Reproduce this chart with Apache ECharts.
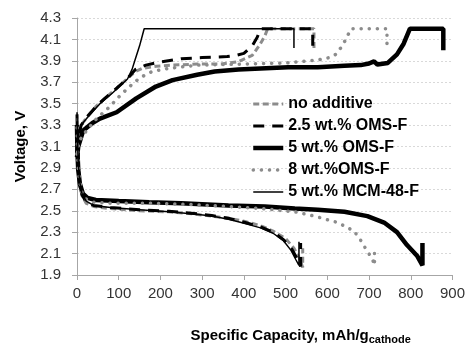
<!DOCTYPE html>
<html>
<head>
<meta charset="utf-8">
<script src="https://cdn.jsdelivr.net/npm/echarts@6/dist/echarts.min.js"></script>
<style>
  html, body { margin: 0; padding: 0; background: #fff; }
  #chart { width: 468px; height: 350px; }
</style>
</head>
<body>
<div id="chart"></div>
<script>
// legend names
const names = ['no additive', '2.5 wt.% OMS-F', '5 wt.% OMS-F', '8 wt.%OMS-F', '5 wt.% MCM-48-F'];

// [capacity mAh/g, voltage V]
const noAddCharge = [[0,3.05],[3,3.18],[10,3.3],[27,3.39],[47,3.48],[70,3.56],[94,3.64],[122,3.74],[140,3.8],[157,3.83],[190,3.85],[230,3.86],[290,3.87],[345,3.87],[385,3.89],[420,3.95],[438,4.05],[450,4.13],[457,4.2],[568,4.2],[568,4.01]];
const noAddDischarge = [[0,3.3],[1,3.1],[3,2.9],[6,2.75],[12,2.64],[22,2.57],[40,2.54],[80,2.52],[150,2.5],[220,2.49],[280,2.47],[323,2.45],[363,2.43],[403,2.4],[440,2.36],[470,2.31],[500,2.24],[520,2.15],[533,2.06],[541,1.97],[541,2.15]];

const oms25Charge = [[0,3.05],[3,3.18],[10,3.3],[27,3.39],[47,3.48],[70,3.56],[94,3.64],[122,3.74],[140,3.82],[165,3.86],[200,3.89],[250,3.92],[300,3.93],[360,3.94],[380,3.95],[400,3.97],[420,4.04],[432,4.12],[440,4.2],[565,4.2],[565,4.0]];
const oms25Discharge = [[0,3.4],[1,3.15],[3,2.92],[6,2.76],[12,2.65],[22,2.58],[40,2.55],[80,2.53],[150,2.51],[220,2.495],[280,2.475],[323,2.455],[363,2.43],[403,2.39],[440,2.35],[470,2.3],[495,2.23],[515,2.14],[528,2.05],[536,1.98],[536,2.2]];

const oms5Charge = [[0,3.0],[3,3.1],[15,3.25],[37,3.32],[55,3.36],[95,3.42],[142,3.55],[189,3.66],[229,3.72],[288,3.77],[330,3.8],[387,3.82],[506,3.84],[577,3.84],[641,3.855],[680,3.86],[700,3.875],[712,3.895],[720,3.865],[745,3.88],[767,3.96],[783,4.06],[798,4.2],[878,4.2],[878,4.0]];
const oms5Discharge = [[0,3.3],[1,3.05],[3,2.88],[7,2.75],[14,2.66],[25,2.62],[45,2.6],[100,2.59],[173,2.58],[250,2.57],[363,2.55],[450,2.54],[522,2.52],[577,2.51],[641,2.49],[696,2.45],[736,2.39],[767,2.3],[791,2.18],[815,2.08],[828,1.99],[828,2.2]];

const oms8Charge = [[0,3.03],[5,3.15],[23,3.25],[47,3.36],[78,3.47],[102,3.57],[126,3.66],[150,3.74],[180,3.8],[220,3.83],[290,3.86],[400,3.87],[500,3.88],[580,3.91],[605,3.93],[620,3.96],[636,4.04],[648,4.13],[657,4.2],[743,4.2],[743,4.02]];
const oms8Discharge = [[0,3.35],[1,3.1],[3,2.9],[6,2.78],[12,2.67],[22,2.61],[40,2.58],[80,2.57],[173,2.57],[260,2.56],[363,2.54],[442,2.52],[522,2.49],[569,2.45],[625,2.39],[664,2.31],[679,2.23],[696,2.12],[708,2.05],[713,1.99],[713,2.14]];

const mcmCharge = [[0,3.08],[3,3.2],[10,3.3],[27,3.38],[55,3.5],[85,3.6],[121,3.73],[132,3.82],[140,3.92],[150,4.04],[161,4.2],[520,4.2],[520,4.02]];
const mcmDischarge = [[0,3.42],[1,3.2],[3,2.95],[6,2.78],[12,2.66],[22,2.59],[40,2.55],[80,2.53],[150,2.51],[220,2.49],[280,2.47],[323,2.45],[363,2.42],[403,2.38],[440,2.34],[470,2.29],[495,2.22],[513,2.13],[525,2.04],[532,1.99],[532,2.21]];

const FONT = '"Liberation Sans", Arial, sans-serif';

const styles = [
    { color: '#8c8c8c', width: 3, type: [6, 3.5], cap: 'butt' },
    { color: '#000', width: 3, type: [11, 8], cap: 'butt' },
    { color: '#000', width: 4.5, type: 'solid', cap: 'butt' },
    { color: '#8c8c8c', width: 3.5, type: [0.1, 8], cap: 'round' },
    { color: '#000', width: 1.5, type: 'solid', cap: 'butt' },
];
const curves = [
    [noAddCharge, noAddDischarge],
    [oms25Charge, oms25Discharge],
    [oms5Charge, oms5Discharge],
    [oms8Charge, oms8Discharge],
    [mcmCharge, mcmDischarge],
];

const series = [];
curves.forEach((pair, i) => {
    pair.forEach((data) => {
        series.push({
            name: names[i],
            type: 'line',
            data: data,
            symbol: 'none',
            animation: false,
            color: styles[i].color,
            lineStyle: {
                color: styles[i].color,
                width: styles[i].width,
                type: styles[i].type,
                cap: styles[i].cap,
            },
        });
    });
});

const legendData = names.map((n, i) => ({
    name: n,
    itemStyle: { opacity: 0 },
    lineStyle: {
        color: styles[i].color,
        width: styles[i].width,
        type: styles[i].type,
        cap: styles[i].cap,
    },
}));

const chart = echarts.init(document.getElementById('chart'));
chart.setOption({
    animation: false,
    grid: { left: 77, right: 12, top: 18, bottom: 62 },
    legend: {
        data: legendData,
        orient: 'vertical',
        left: 246,
        top: 91,
        itemWidth: 30,
        itemHeight: 14,
        itemGap: 6,
        itemStyle: { opacity: 0 },
        textStyle: { fontFamily: FONT, fontSize: 16, fontWeight: 'bold', color: '#000' },
    },
    xAxis: {
        type: 'value',
        min: 0,
        max: 900,
        interval: 100,
        name: '{m|Specific Capacity, mAh/g}{s|cathode}',
        nameLocation: 'middle',
        nameGap: 51,
        nameTextStyle: {
            padding: [0, 0, 0, 72],
            rich: {
                m: { fontFamily: FONT, fontSize: 15, fontWeight: 'bold', color: '#000' },
                s: { fontFamily: FONT, fontSize: 11, fontWeight: 'bold', color: '#000', padding: [8, 0, 0, 0] },
            },
        },
        axisLine: { lineStyle: { color: '#a6a6a6', width: 1 } },
        axisTick: { show: true, length: 5, lineStyle: { color: '#a6a6a6' } },
        axisLabel: { fontFamily: FONT, fontSize: 15, color: '#333', margin: 11 },
        splitLine: { show: false },
    },
    yAxis: {
        type: 'value',
        min: 1.9,
        max: 4.3,
        interval: 0.2,
        name: 'Voltage, V',
        nameLocation: 'middle',
        nameGap: 49,
        nameTextStyle: { fontFamily: FONT, fontSize: 15, fontWeight: 'bold', color: '#000' },
        axisLine: { show: true, lineStyle: { color: '#a6a6a6', width: 1 } },
        axisTick: { show: true, length: 5, lineStyle: { color: '#a6a6a6' } },
        axisLabel: {
            fontFamily: FONT, fontSize: 15, color: '#333', margin: 16,
            formatter: (v) => v.toFixed(1),
        },
        splitLine: { show: true, lineStyle: { color: '#d9d9d9', width: 1, type: [2, 2] } },
    },
    series: series,
});
</script>
</body>
</html>
